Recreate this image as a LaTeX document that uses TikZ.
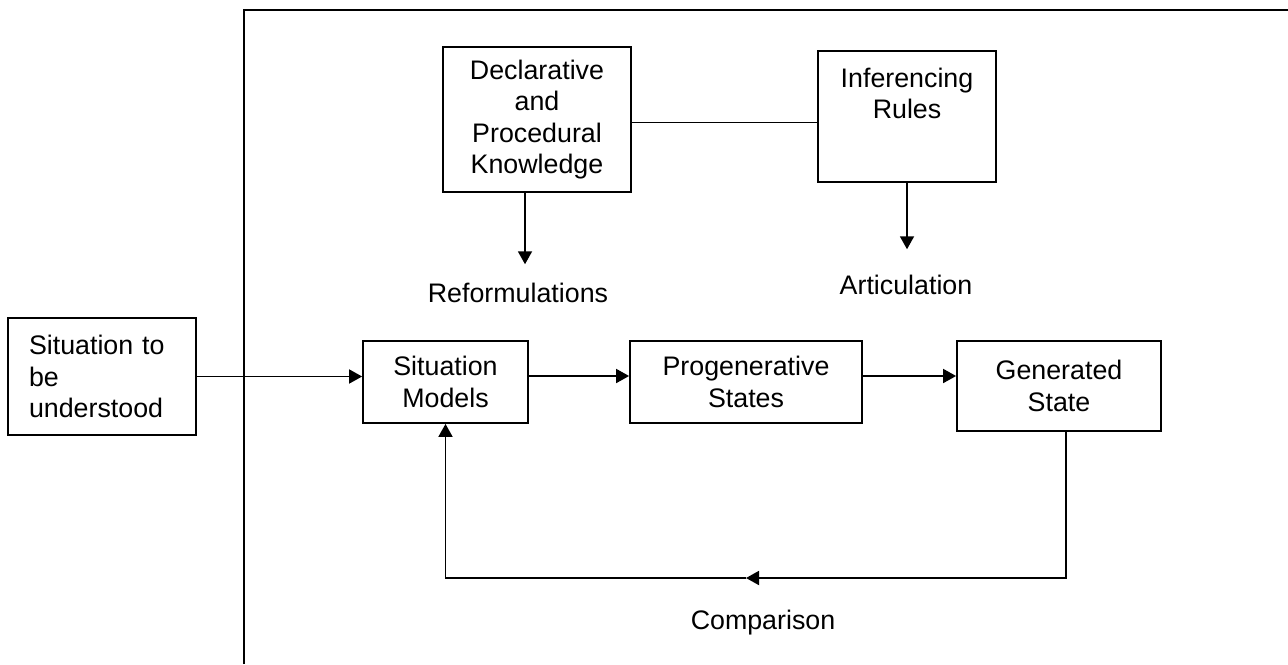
\documentclass[tikz,border=0pt]{standalone}
\usepackage{fontspec}
\setmainfont{Liberation Sans}
\usetikzlibrary{arrows.meta}
\begin{document}
\begin{tikzpicture}[
        x=0.5pt, y=-0.5pt,
        >={Triangle[length=6.5pt,width=7pt]},
        line width=0.9pt,
        box/.style={draw, align=center, inner sep=0pt,
          font=\fontsize{13.4}{15.6}\selectfont},
        lbl/.style={inner sep=9pt, font=\fontsize{13.4}{15.6}\selectfont},
        ]
        \useasboundingbox (0,0) rectangle (1288,664);
        \draw[line width=1.3pt] (244,664) -- (244,10) -- (1288,10);
        \node[box, minimum width=94pt, minimum height=72.5pt] (dpk) at (537,119.5)
             {Declarative\\and\\Procedural\\Knowledge};
        \node[box, minimum width=89pt, minimum height=65.5pt] (ir) at (907,116.5)
             {Inferencing\\Rules\\[8pt]\mbox{}};
        \node[box, align=left, text width=73pt, minimum width=94pt, minimum height=58.5pt]
             (sit) at (102,376.5) {Situation to\\be\\understood};
        \node[box, minimum width=82.5pt, minimum height=41pt] (sm) at (445.5,382)
             {Situation\\Models};
        \node[box, minimum width=116pt, minimum height=41pt] (pg) at (746,382)
             {Progenerative\\States};
        \node[box, minimum width=102pt, minimum height=45pt] (gs) at (1059,386)
             {Generated\\State};
        \node[lbl] (ref) at (518,293) {Reformulations};
        \node[lbl] (art) at (906,285) {Articulation};
        \node[lbl] (cmp) at (763,623) {Comparison};
        \coordinate (fb) at (746,578);
        \draw ([yshift=-1.5pt]dpk.east) -- ([yshift=-1.5pt]dpk.east -| ir.west);
        \draw[->] ([xshift=-6pt]dpk.south) -- ([xshift=-6pt]dpk.south |- ref.north);
        \draw[->] (ir.south) -- ([yshift=3.5pt]ir.south |- art.north);
        \draw[->] (sit.east) -- (sit.east -| sm.west);
        \draw[->] ([yshift=3pt]sm.east) -- ([yshift=3pt]pg.west);
        \draw[->] ([yshift=3pt]pg.east) -- ([yshift=3pt]pg.east -| gs.west);
        \draw[->] ([xshift=3.5pt]gs.south) |- (fb);
        \draw[->] (fb) -| (sm.south);
\end{tikzpicture}
\end{document}
